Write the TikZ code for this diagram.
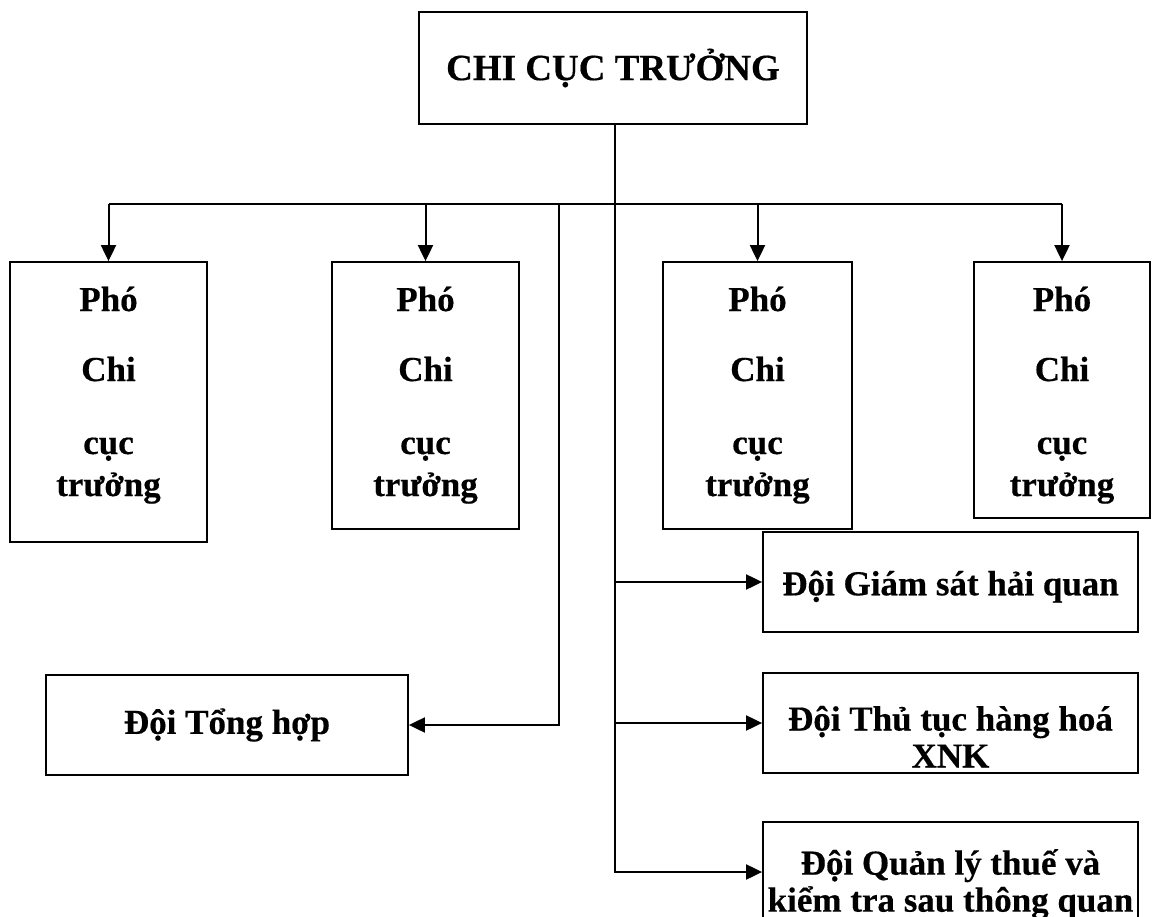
\documentclass[tikz,border=0pt]{standalone}
\usepackage{fontspec}
\setmainfont{Liberation Serif}[BoldFeatures={FakeBold=0.4}]
\usetikzlibrary{arrows.meta,positioning}

% deputy box text, #1 = extra depth under the last line
\newcommand{\photext}[1]{\rule{0pt}{35pt}Phó\\[28pt]Chi\\[31pt]cục\\trưởng\rule[-#1]{0pt}{#1}}

\begin{document}
\begin{tikzpicture}[x=1pt,y=-1pt,
    box/.style={rectangle,draw=black,line width=1.8pt,inner sep=0pt,
                align=center,font=\fontsize{35}{37}\selectfont\bfseries},
    phobox/.style={box,minimum width=#1,
                   font=\fontsize{35}{42}\selectfont\bfseries},
    teambox/.style={box,minimum width=375pt,minimum height=100pt},
    link/.style={line width=2pt},
    arr/.style={link,-{Triangle[length=16pt,width=15pt]}}
  ]
    \useasboundingbox (0,0) rectangle (1152,917);

    \node[box,minimum width=388pt,minimum height=112pt,
          font=\fontsize{37}{40}\selectfont\bfseries] (chief) at (613,68) {CHI CỤC TRƯỞNG};

    % four deputies on the bus
    \node[phobox=197pt,minimum height=280pt] (pho1) at (108.5,402) {\photext{32pt}};
    \node[phobox=187pt,minimum height=267pt] (pho2) at (425.5,395.5) {\photext{19pt}};
    \node[phobox=189pt,minimum height=267pt] (pho3) at (757.5,395.5) {\photext{19pt}};
    \node[phobox=176pt,minimum height=256pt] (pho4) at (1062,390) {\photext{8pt}};

    % teams
    \node[box,minimum width=362pt,minimum height=100pt] (tonghop) at (227,725) {Đội Tổng hợp};
    \node[teambox] (giamsat) at (950.5,582) {\rule{0pt}{34pt}Đội Giám sát hải quan};
    \node[teambox] (thutuc) at (950.5,723) {\rule{0pt}{52pt}Đội Thủ tục hàng hoá\\XNK};
    \node[teambox] (quanly) at (950.5,872) {\rule{0pt}{50pt}Đội Quản lý thuế và\\kiểm tra sau thông quan};

    \coordinate (bus) at (0,204);
    \coordinate (trunk) at (615,124);
    \coordinate (tap) at (559,204);

    \draw[link] (pho1.north |- bus) -- (pho4.north |- bus);
    \foreach \n in {pho1,pho2,pho3,pho4}
      \draw[arr] (\n.north |- bus) -- (\n.north);

    \draw[arr] (trunk) |- (quanly.west);
    \draw[arr] (trunk |- giamsat.west) -- (giamsat.west);
    \draw[arr] (trunk |- thutuc.west) -- (thutuc.west);
    \draw[arr] (tap) |- (tonghop.east);
  \end{tikzpicture}
\end{document}
